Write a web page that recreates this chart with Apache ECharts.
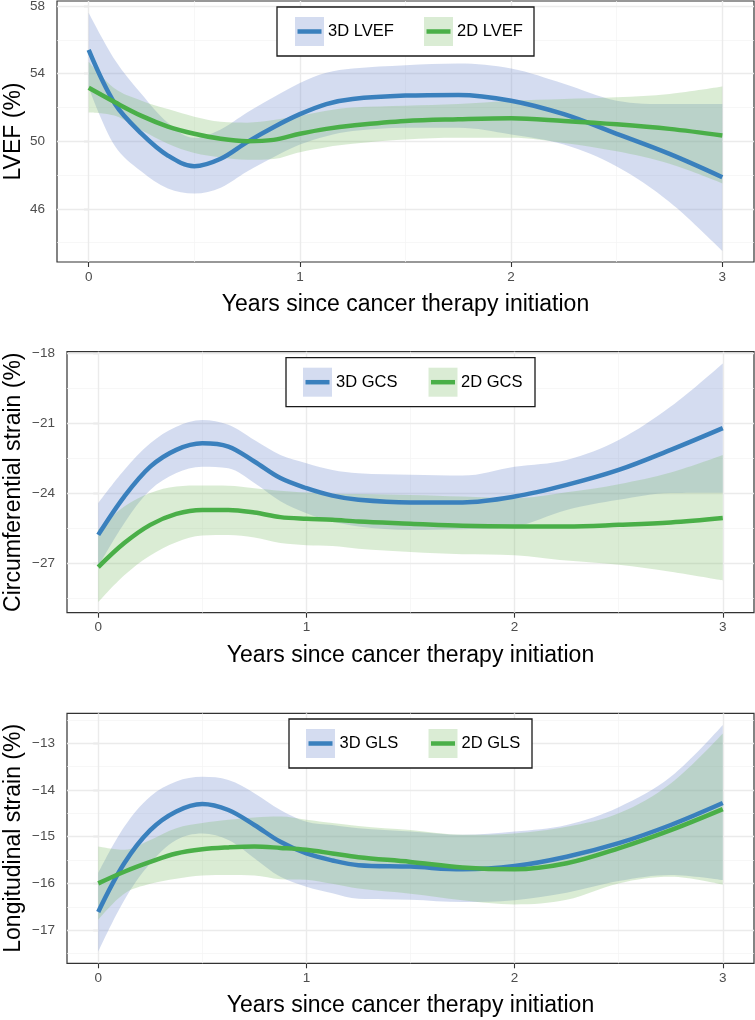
<!DOCTYPE html>
<html><head><meta charset="utf-8">
<script src="https://cdn.jsdelivr.net/npm/echarts@6/dist/echarts.min.js"></script>
<style>html,body{margin:0;padding:0;background:#fff}#c{width:755px;height:1020px}</style>
</head><body><div id="c"></div><script>
// ---------- data ----------
const years = [0,0.125,0.25,0.375,0.5,0.625,0.75,0.875,1,1.125,1.25,1.5,1.75,2,2.25,2.5,2.75,3];
const yearTicks = [0,1,2,3];

const lvef3dMean  = [55.4,52.2,50.45,49.15,48.52,48.96,49.95,50.83,51.6,52.2,52.5,52.7,52.74,52.4,51.6,50.44,49.25,47.87];
const lvef3dUpper = [57.6,54.8,52.8,51.1,50.2,50.7,51.7,52.6,53.45,54.05,54.3,54.5,54.6,54.3,53.4,52.4,52.2,52.2];
const lvef3dLower = [53.2,49.7,48.2,47.2,46.9,47.25,48.2,49.05,49.8,50.3,50.6,50.8,50.8,50.4,49.8,48.5,46.4,43.5];
const lvef2dMean  = [53.16,52.3,51.5,50.87,50.44,50.14,50.0,50.08,50.44,50.73,50.93,51.2,51.3,51.36,51.2,51.0,50.73,50.34];
const lvef2dUpper = [54.7,53.1,52.4,51.9,51.45,51.15,51.1,51.25,51.5,51.8,52.0,52.1,52.2,52.4,52.5,52.6,52.8,53.24];
const lvef2dLower = [51.7,51.5,50.65,49.85,49.3,49.05,48.9,48.95,49.35,49.65,49.85,50.1,50.2,50.2,49.9,49.4,48.66,47.5];
const lvefTicks = [46,50,54,58];

const gcs3dMean  = [-25.77,-24.13,-22.85,-22.13,-21.85,-21.99,-22.63,-23.34,-23.77,-24.09,-24.27,-24.38,-24.38,-24.13,-23.63,-22.99,-22.13,-21.2];
const gcs3dUpper = [-24.41,-22.99,-21.85,-21.14,-20.85,-21.06,-21.71,-22.35,-22.7,-22.99,-23.13,-23.2,-23.23,-22.85,-22.56,-21.71,-20.28,-18.43];
const gcs3dLower = [-27.13,-25.27,-23.85,-23.12,-22.85,-22.92,-23.55,-24.33,-24.84,-25.19,-25.41,-25.56,-25.53,-25.41,-24.7,-24.27,-23.98,-23.97];
const gcs2dMean  = [-27.15,-26.12,-25.34,-24.87,-24.7,-24.7,-24.81,-25.01,-25.08,-25.12,-25.2,-25.29,-25.38,-25.41,-25.41,-25.34,-25.24,-25.05];
const gcs2dUpper = [-25.55,-24.56,-23.98,-23.7,-23.66,-23.67,-23.77,-23.88,-23.96,-24.01,-24.02,-24.06,-24.13,-24.2,-23.95,-23.6,-23.1,-22.35];
const gcs2dLower = [-28.65,-27.5,-26.65,-26.08,-25.8,-25.78,-25.88,-26.12,-26.21,-26.25,-26.36,-26.5,-26.6,-26.64,-26.87,-27.05,-27.35,-27.72];
const gcsTicks = [-27,-24,-21,-18];

const gls3dMean  = [-16.61,-15.57,-14.86,-14.46,-14.3,-14.43,-14.75,-15.11,-15.36,-15.51,-15.61,-15.64,-15.7,-15.63,-15.43,-15.14,-14.75,-14.28];
const gls3dUpper = [-15.78,-14.79,-14.14,-13.82,-13.72,-13.79,-14.07,-14.43,-14.68,-14.75,-14.82,-14.89,-14.96,-14.89,-14.75,-14.37,-13.72,-12.61];
const gls3dLower = [-17.46,-16.36,-15.57,-15.07,-14.93,-15.07,-15.46,-15.86,-16.07,-16.21,-16.33,-16.35,-16.4,-16.36,-16.2,-15.95,-15.82,-15.93];
const gls2dMean  = [-16.0,-15.75,-15.54,-15.36,-15.27,-15.23,-15.21,-15.24,-15.28,-15.36,-15.44,-15.54,-15.66,-15.7,-15.57,-15.25,-14.86,-14.41];
const gls2dUpper = [-15.21,-15.28,-15.07,-14.82,-14.71,-14.64,-14.59,-14.57,-14.64,-14.71,-14.77,-14.86,-14.96,-14.93,-14.79,-14.5,-13.86,-12.79];
const gls2dLower = [-16.78,-16.22,-16.01,-15.9,-15.83,-15.82,-15.83,-15.91,-15.92,-16.01,-16.11,-16.22,-16.36,-16.45,-16.35,-16.0,-15.86,-16.03];
const glsTicks = [-17,-16,-15,-14,-13];

const xTitle = 'Years since cancer therapy initiation';

// ---------- style ----------
const FONT = '"Liberation Sans", Arial, Helvetica, sans-serif';
const BLUE = '#3a80bd', GREEN = '#4aaf48';
const BLUE_BAND = 'rgba(112,140,205,0.30)', GREEN_BAND = 'rgba(120,185,95,0.27)';

const panels = [
  {grid:{left:57, top:1, right:1, height:261}, ymin:42.85, ymax:58.3, ticks:lvefTicks, yName:'LVEF (%)', yGap:32,
   s3:{name:'3D LVEF', mean:lvef3dMean, lo:lvef3dLower, hi:lvef3dUpper},
   s2:{name:'2D LVEF', mean:lvef2dMean, lo:lvef2dLower, hi:lvef2dUpper},
   leg:{box:[277,7,257,49], k1:295, t1:328, k2:424, t2:457}},
  {grid:{left:67, top:351.7, right:1, height:261}, ymin:-29.1, ymax:-17.93, ticks:gcsTicks, yName:'Circumferential strain (%)', yGap:41.5,
   s3:{name:'3D GCS', mean:gcs3dMean, lo:gcs3dLower, hi:gcs3dUpper},
   s2:{name:'2D GCS', mean:gcs2dMean, lo:gcs2dLower, hi:gcs2dUpper},
   leg:{box:[286,357.7,249,49], k1:303, t1:336, k2:428.5, t2:461}},
  {grid:{left:67, top:713.3, right:1, height:250}, ymin:-17.71, ymax:-12.36, ticks:glsTicks, yName:'Longitudinal strain (%)', yGap:41.5,
   s3:{name:'3D GLS', mean:gls3dMean, lo:gls3dLower, hi:gls3dUpper},
   s2:{name:'2D GLS', mean:gls2dMean, lo:gls2dLower, hi:gls2dUpper},
   leg:{box:[289,719,243,49], k1:306, t1:339.5, k2:428.5, t2:461.5}}
];

// band data are given as [value, year] so that stacking acts on the value dimension
const pairs = (xs, ys) => xs.map((x,k) => [x, ys[k]]);
const bandLow = (xs, lo) => xs.map((x,k) => [lo[k], x]);
const bandWidth = (xs, lo, hi) => xs.map((x,k) => [+(hi[k]-lo[k]).toFixed(4), x]);

const grids = [], xAxes = [], yAxes = [], series = [], graphics = [];
const MAJOR = {color:'#ebebeb', width:1.4, type:'solid'};
const MINOR = {color:'#f3f3f3', width:0.7, type:'solid'};

panels.forEach((p, i) => {
  grids.push(Object.assign({show:true, borderColor:'#333333', borderWidth:1.2, backgroundColor:'transparent',
    containLabel:false, outerBoundsMode:'none'}, p.grid));
  xAxes.push({
    type:'value', gridIndex:i, min:-0.15, max:3.15,
    axisLine:{show:false}, splitLine:{show:false},
    axisTick:{show:true, length:5, lineStyle:{color:'#333', width:1.1}, customValues:yearTicks},
    axisLabel:{customValues:yearTicks, color:'#4d4d4d', fontSize:13.5, fontFamily:FONT, margin:8},
    name:xTitle, nameLocation:'middle', nameGap:31, nameMoveOverlap:false,
    nameTextStyle:{fontSize:23, color:'#000', fontFamily:FONT}
  });
  yAxes.push({
    type:'value', gridIndex:i, min:p.ymin, max:p.ymax,
    axisLine:{show:false}, splitLine:{show:false},
    axisTick:{show:true, length:5, lineStyle:{color:'#333', width:1.1}, customValues:p.ticks},
    axisLabel:{customValues:p.ticks, color:'#4d4d4d', fontSize:13.5, fontFamily:FONT, margin:12,
      formatter: v => (v < 0 ? '\u2212' + Math.abs(v) : String(v))},
    name:p.yName, nameLocation:'middle', nameGap:p.yGap, nameMoveOverlap:false,
    nameTextStyle:{fontSize:23, color:'#000', fontFamily:FONT}
  });

  // grid lines
  const step = p.ticks[1] - p.ticks[0];
  const yMinor = [];
  for (let v = p.ticks[0] - step/2; v <= p.ymax; v += step) if (v >= p.ymin) yMinor.push(v);
  const xMinor = [0.5,1.5,2.5];
  const ml = [];
  yMinor.forEach(v => ml.push({yAxis:v, lineStyle:MINOR}));
  xMinor.forEach(v => ml.push({xAxis:v, lineStyle:MINOR}));
  p.ticks.forEach(v => ml.push({yAxis:v, lineStyle:MAJOR}));
  yearTicks.forEach(v => ml.push({xAxis:v, lineStyle:MAJOR}));
  series.push({type:'line', xAxisIndex:i, yAxisIndex:i, data:[], z:1, silent:true, animation:false,
    markLine:{silent:true, z:1, animation:false, symbol:['none','none'], label:{show:false}, data:ml}});

  [[p.s3, BLUE, BLUE_BAND], [p.s2, GREEN, GREEN_BAND]].forEach(([s, col, band], j) => {
    const stack = 'band' + i + '_' + j;
    series.push({type:'line', name:s.name + ' lower', xAxisIndex:i, yAxisIndex:i, stack, stackStrategy:'all',
      dimensions:['v','t'], encode:{x:1, y:0},
      data:bandLow(years, s.lo), smooth:0.35, symbol:'none', lineStyle:{color:'transparent', width:0}, z:2, silent:true, animation:false});
    series.push({type:'line', name:s.name + ' band', xAxisIndex:i, yAxisIndex:i, stack, stackStrategy:'all',
      dimensions:['v','t'], encode:{x:1, y:0},
      data:bandWidth(years, s.lo, s.hi), smooth:0.35, symbol:'none', lineStyle:{color:'transparent', width:0},
      areaStyle:{color:band, opacity:1}, z:2, silent:true, animation:false});
    series.push({type:'line', name:s.name, xAxisIndex:i, yAxisIndex:i,
      data:pairs(years, s.mean), smooth:0.35, symbol:'none', lineStyle:{color:col, width:4.5}, z:2, animation:false});
  });

  // legend (ggplot-style box with band key + line key)
  const L = p.leg, [bx, by, bw, bh] = L.box, cy = by + bh/2, ks = 29;
  graphics.push({type:'rect', z:20, shape:{x:bx, y:by, width:bw, height:bh}, style:{fill:'#fff', stroke:'#1a1a1a', lineWidth:1.3}});
  [[L.k1, L.t1, p.s3.name, BLUE, BLUE_BAND], [L.k2, L.t2, p.s2.name, GREEN, GREEN_BAND]].forEach(([kx, tx, name, col, band]) => {
    graphics.push({type:'rect', z:21, shape:{x:kx, y:cy - ks/2, width:ks, height:ks}, style:{fill:band}});
    graphics.push({type:'line', z:22, shape:{x1:kx + 2.5, y1:cy, x2:kx + ks - 2.5, y2:cy}, style:{stroke:col, lineWidth:4.5}});
    graphics.push({type:'text', z:22, style:{text:name, x:tx, y:cy, fill:'#000', font:'16.5px ' + FONT, verticalAlign:'middle', textVerticalAlign:'middle', align:'left'}});
  });
});

const chart = echarts.init(document.getElementById('c'), null, {renderer:'canvas'});
chart.setOption({
  backgroundColor:'#ffffff',
  animation:false,
  textStyle:{fontFamily:FONT},
  grid:grids, xAxis:xAxes, yAxis:yAxes, series, graphic:graphics
});
</script></body></html>
